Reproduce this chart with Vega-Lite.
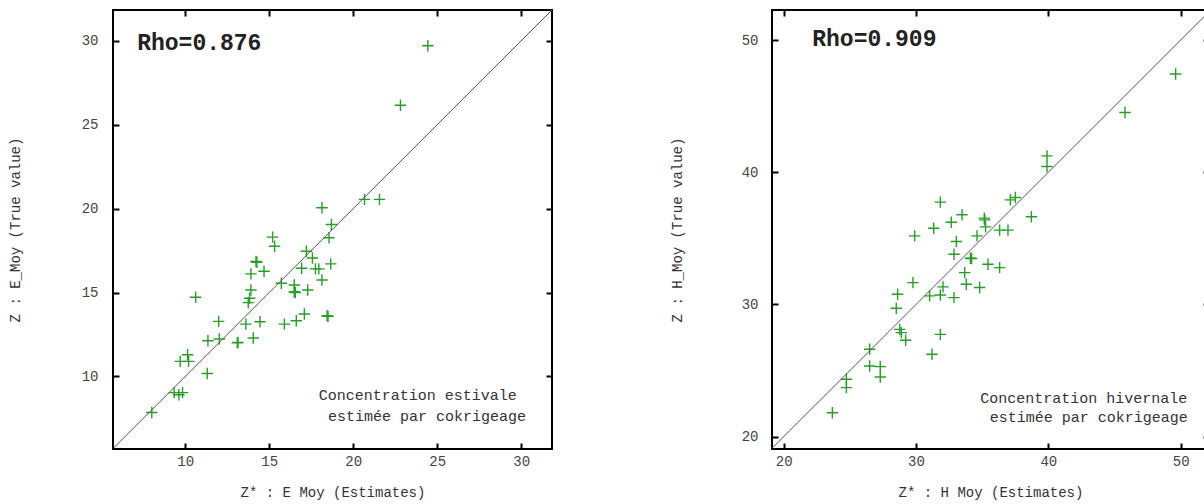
{
  "$schema": "https://vega.github.io/schema/vega-lite/v6.json",
  "background": "white",
  "padding": {"left": 7, "top": 8, "right": 0, "bottom": 0},
  "spacing": 115,
  "config": {
    "view": {"stroke": "#000", "strokeWidth": 2},
    "axis": {
      "domain": false, "grid": false,
      "tickSize": -6, "tickWidth": 2, "tickColor": "#000",
      "labelFont": "Liberation Mono", "labelFontSize": 14, "labelColor": "#444",
      "labelFlush": false, "labelOverlap": false,
      "titleFont": "Liberation Mono", "titleFontSize": 14, "titleFontWeight": "normal", "titleColor": "#333"
    }
  },
  "hconcat": [
    {
      "width": 439, "height": 439,
      "layer": [
        {
          "data": {"values": [
            {"est": 24.44, "tru": 29.70}, {"est": 22.81, "tru": 26.16}, {"est": 20.67, "tru": 20.55}, {"est": 21.56, "tru": 20.55},
            {"est": 18.14, "tru": 20.05}, {"est": 18.70, "tru": 19.05}, {"est": 18.56, "tru": 18.26}, {"est": 15.20, "tru": 18.30},
            {"est": 15.32, "tru": 17.76}, {"est": 17.21, "tru": 17.46}, {"est": 17.57, "tru": 17.06}, {"est": 14.21, "tru": 16.85},
            {"est": 14.26, "tru": 16.80}, {"est": 14.69, "tru": 16.27}, {"est": 13.91, "tru": 16.11}, {"est": 16.93, "tru": 16.45},
            {"est": 17.75, "tru": 16.41}, {"est": 17.95, "tru": 16.41}, {"est": 18.66, "tru": 16.71}, {"est": 18.14, "tru": 15.75},
            {"est": 15.72, "tru": 15.55}, {"est": 16.49, "tru": 15.45}, {"est": 16.49, "tru": 15.05}, {"est": 16.55, "tru": 15.00},
            {"est": 17.29, "tru": 15.15}, {"est": 13.91, "tru": 15.15}, {"est": 13.83, "tru": 14.66}, {"est": 13.75, "tru": 14.40},
            {"est": 10.62, "tru": 14.72}, {"est": 17.09, "tru": 13.72}, {"est": 16.61, "tru": 13.32}, {"est": 15.90, "tru": 13.12},
            {"est": 18.44, "tru": 13.62}, {"est": 18.50, "tru": 13.58}, {"est": 11.99, "tru": 13.28}, {"est": 13.61, "tru": 13.12},
            {"est": 14.45, "tru": 13.26}, {"est": 11.35, "tru": 12.13}, {"est": 12.03, "tru": 12.23}, {"est": 13.14, "tru": 12.03},
            {"est": 13.10, "tru": 12.00}, {"est": 14.05, "tru": 12.29}, {"est": 10.14, "tru": 11.29}, {"est": 9.70, "tru": 10.90},
            {"est": 10.20, "tru": 10.90}, {"est": 11.31, "tru": 10.18}, {"est": 9.34, "tru": 9.04}, {"est": 9.62, "tru": 8.91},
            {"est": 9.84, "tru": 9.04}, {"est": 8.01, "tru": 7.85}
          ]},
          "mark": {"type": "point", "shape": "M-1,0L1,0M0,-1L0,1", "filled": false, "size": 130, "strokeWidth": 1.4, "color": "#25a025", "opacity": 1},
          "encoding": {
            "x": {"field": "est", "type": "quantitative", "scale": {"domain": [5.7, 31.83], "nice": false, "zero": false},
                  "axis": {"orient": "bottom", "values": [10, 15, 20, 25, 30], "title": "Z* : E Moy (Estimates)", "labelPadding": 11, "minExtent": 20, "maxExtent": 20, "titlePadding": 16}},
            "y": {"field": "tru", "type": "quantitative", "scale": {"domain": [5.68, 31.83], "nice": false, "zero": false},
                  "axis": {"orient": "left", "values": [10, 15, 20, 25, 30], "title": "Z : E_Moy (True value)", "labelPadding": 21, "minExtent": 32, "maxExtent": 32, "titlePadding": 59}}
          }
        },
        {
          "data": {"values": [{"a": 5.7, "b": 5.7, "a2": 31.83, "b2": 31.83}]},
          "mark": {"type": "rule", "color": "#555", "strokeWidth": 1},
          "encoding": {
            "x": {"field": "a", "type": "quantitative", "scale": {"domain": [5.7, 31.83], "nice": false, "zero": false},
                  "axis": {"orient": "top", "values": [10, 15, 20, 25, 30], "labels": false, "title": null, "minExtent": 0, "maxExtent": 0}},
            "y": {"field": "b", "type": "quantitative", "scale": {"domain": [5.68, 31.83], "nice": false, "zero": false},
                  "axis": {"orient": "right", "values": [10, 15, 20, 25, 30], "labels": false, "title": null, "minExtent": 0, "maxExtent": 0}},
            "x2": {"field": "a2"},
            "y2": {"field": "b2"}
          }
        },
        {
          "data": {"values": [{"x": 7.14, "y": 29.45, "t": "Rho=0.876"}]},
          "mark": {"type": "text", "font": "Liberation Mono", "fontSize": 23, "fontWeight": "bold", "color": "#222", "align": "left", "baseline": "alphabetic"},
          "encoding": {
            "x": {"field": "x", "type": "quantitative", "axis": null, "scale": {"domain": [5.7, 31.83], "nice": false, "zero": false}},
            "y": {"field": "y", "type": "quantitative", "axis": null, "scale": {"domain": [5.68, 31.83], "nice": false, "zero": false}},
            "text": {"field": "t"}
          }
        },
        {
          "data": {"values": [{"x": 17.94, "y": 8.61, "t": "Concentration estivale"}, {"x": 18.49, "y": 7.36, "t": "estimée par cokrigeage"}]},
          "mark": {"type": "text", "font": "Liberation Mono", "fontSize": 15, "color": "#333", "align": "left", "baseline": "alphabetic"},
          "encoding": {
            "x": {"field": "x", "type": "quantitative", "axis": null, "scale": {"domain": [5.7, 31.83], "nice": false, "zero": false}},
            "y": {"field": "y", "type": "quantitative", "axis": null, "scale": {"domain": [5.68, 31.83], "nice": false, "zero": false}},
            "text": {"field": "t"}
          }
        }
      ],
      "resolve": {"axis": {"x": "independent", "y": "independent"}}
    },
    {
      "width": 437, "height": 439,
      "layer": [
        {
          "data": {"values": [
            {"est": 49.62, "tru": 47.43}, {"est": 45.79, "tru": 44.52}, {"est": 39.90, "tru": 41.24}, {"est": 39.90, "tru": 40.44},
            {"est": 37.13, "tru": 37.91}, {"est": 37.51, "tru": 38.09}, {"est": 38.72, "tru": 36.63}, {"est": 31.84, "tru": 37.74},
            {"est": 33.48, "tru": 36.78}, {"est": 32.67, "tru": 36.22}, {"est": 31.34, "tru": 35.77}, {"est": 35.16, "tru": 36.53},
            {"est": 35.20, "tru": 36.40}, {"est": 35.26, "tru": 35.87}, {"est": 34.61, "tru": 35.19}, {"est": 36.32, "tru": 35.62},
            {"est": 36.95, "tru": 35.62}, {"est": 29.90, "tru": 35.19}, {"est": 33.05, "tru": 34.76}, {"est": 32.87, "tru": 33.80},
            {"est": 34.11, "tru": 33.50}, {"est": 34.20, "tru": 33.48}, {"est": 35.44, "tru": 33.04}, {"est": 36.32, "tru": 32.79},
            {"est": 33.68, "tru": 32.41}, {"est": 33.80, "tru": 31.53}, {"est": 34.81, "tru": 31.28}, {"est": 29.77, "tru": 31.65},
            {"est": 32.04, "tru": 31.33}, {"est": 31.84, "tru": 30.72}, {"est": 31.03, "tru": 30.65}, {"est": 32.87, "tru": 30.52},
            {"est": 28.61, "tru": 30.77}, {"est": 28.51, "tru": 29.71}, {"est": 28.77, "tru": 28.12}, {"est": 28.89, "tru": 27.87},
            {"est": 29.22, "tru": 27.29}, {"est": 31.84, "tru": 27.74}, {"est": 31.21, "tru": 26.23}, {"est": 26.50, "tru": 26.61},
            {"est": 26.50, "tru": 25.35}, {"est": 27.30, "tru": 25.30}, {"est": 27.30, "tru": 24.51}, {"est": 24.74, "tru": 24.34},
            {"est": 24.74, "tru": 23.71}, {"est": 23.68, "tru": 21.81}
          ]},
          "mark": {"type": "point", "shape": "M-1,0L1,0M0,-1L0,1", "filled": false, "size": 130, "strokeWidth": 1.4, "color": "#25a025", "opacity": 1},
          "encoding": {
            "x": {"field": "est", "type": "quantitative", "scale": {"domain": [19.12, 52.14], "nice": false, "zero": false},
                  "axis": {"orient": "bottom", "values": [20, 30, 40, 50], "title": "Z* : H Moy (Estimates)", "labelPadding": 11, "minExtent": 20, "maxExtent": 20, "titlePadding": 16}},
            "y": {"field": "tru", "type": "quantitative", "scale": {"domain": [19.07, 52.27], "nice": false, "zero": false},
                  "axis": {"orient": "left", "values": [20, 30, 40, 50], "title": "Z : H_Moy (True value)", "labelPadding": 20, "minExtent": 32, "maxExtent": 32, "titlePadding": 56}}
          }
        },
        {
          "data": {"values": [{"a": 19.12, "b": 19.12, "a2": 52.14, "b2": 52.14}]},
          "mark": {"type": "rule", "color": "#555", "strokeWidth": 1},
          "encoding": {
            "x": {"field": "a", "type": "quantitative", "scale": {"domain": [19.12, 52.14], "nice": false, "zero": false},
                  "axis": {"orient": "top", "values": [20, 30, 40, 50], "labels": false, "title": null, "minExtent": 0, "maxExtent": 0}},
            "y": {"field": "b", "type": "quantitative", "scale": {"domain": [19.07, 52.27], "nice": false, "zero": false},
                  "axis": {"orient": "right", "values": [20, 30, 40, 50], "labels": false, "title": null, "minExtent": 0, "maxExtent": 0}},
            "x2": {"field": "a2"},
            "y2": {"field": "b2"}
          }
        },
        {
          "data": {"values": [{"x": 22.16, "y": 49.58, "t": "Rho=0.909"}]},
          "mark": {"type": "text", "font": "Liberation Mono", "fontSize": 23, "fontWeight": "bold", "color": "#222", "align": "left", "baseline": "alphabetic"},
          "encoding": {
            "x": {"field": "x", "type": "quantitative", "axis": null, "scale": {"domain": [19.12, 52.14], "nice": false, "zero": false}},
            "y": {"field": "y", "type": "quantitative", "axis": null, "scale": {"domain": [19.07, 52.27], "nice": false, "zero": false}},
            "text": {"field": "t"}
          }
        },
        {
          "data": {"values": [{"x": 34.86, "y": 22.57, "t": "Concentration hivernale"}, {"x": 35.57, "y": 21.14, "t": "estimée par cokrigeage"}]},
          "mark": {"type": "text", "font": "Liberation Mono", "fontSize": 15, "color": "#333", "align": "left", "baseline": "alphabetic"},
          "encoding": {
            "x": {"field": "x", "type": "quantitative", "axis": null, "scale": {"domain": [19.12, 52.14], "nice": false, "zero": false}},
            "y": {"field": "y", "type": "quantitative", "axis": null, "scale": {"domain": [19.07, 52.27], "nice": false, "zero": false}},
            "text": {"field": "t"}
          }
        }
      ],
      "resolve": {"axis": {"x": "independent", "y": "independent"}}
    }
  ]
}
